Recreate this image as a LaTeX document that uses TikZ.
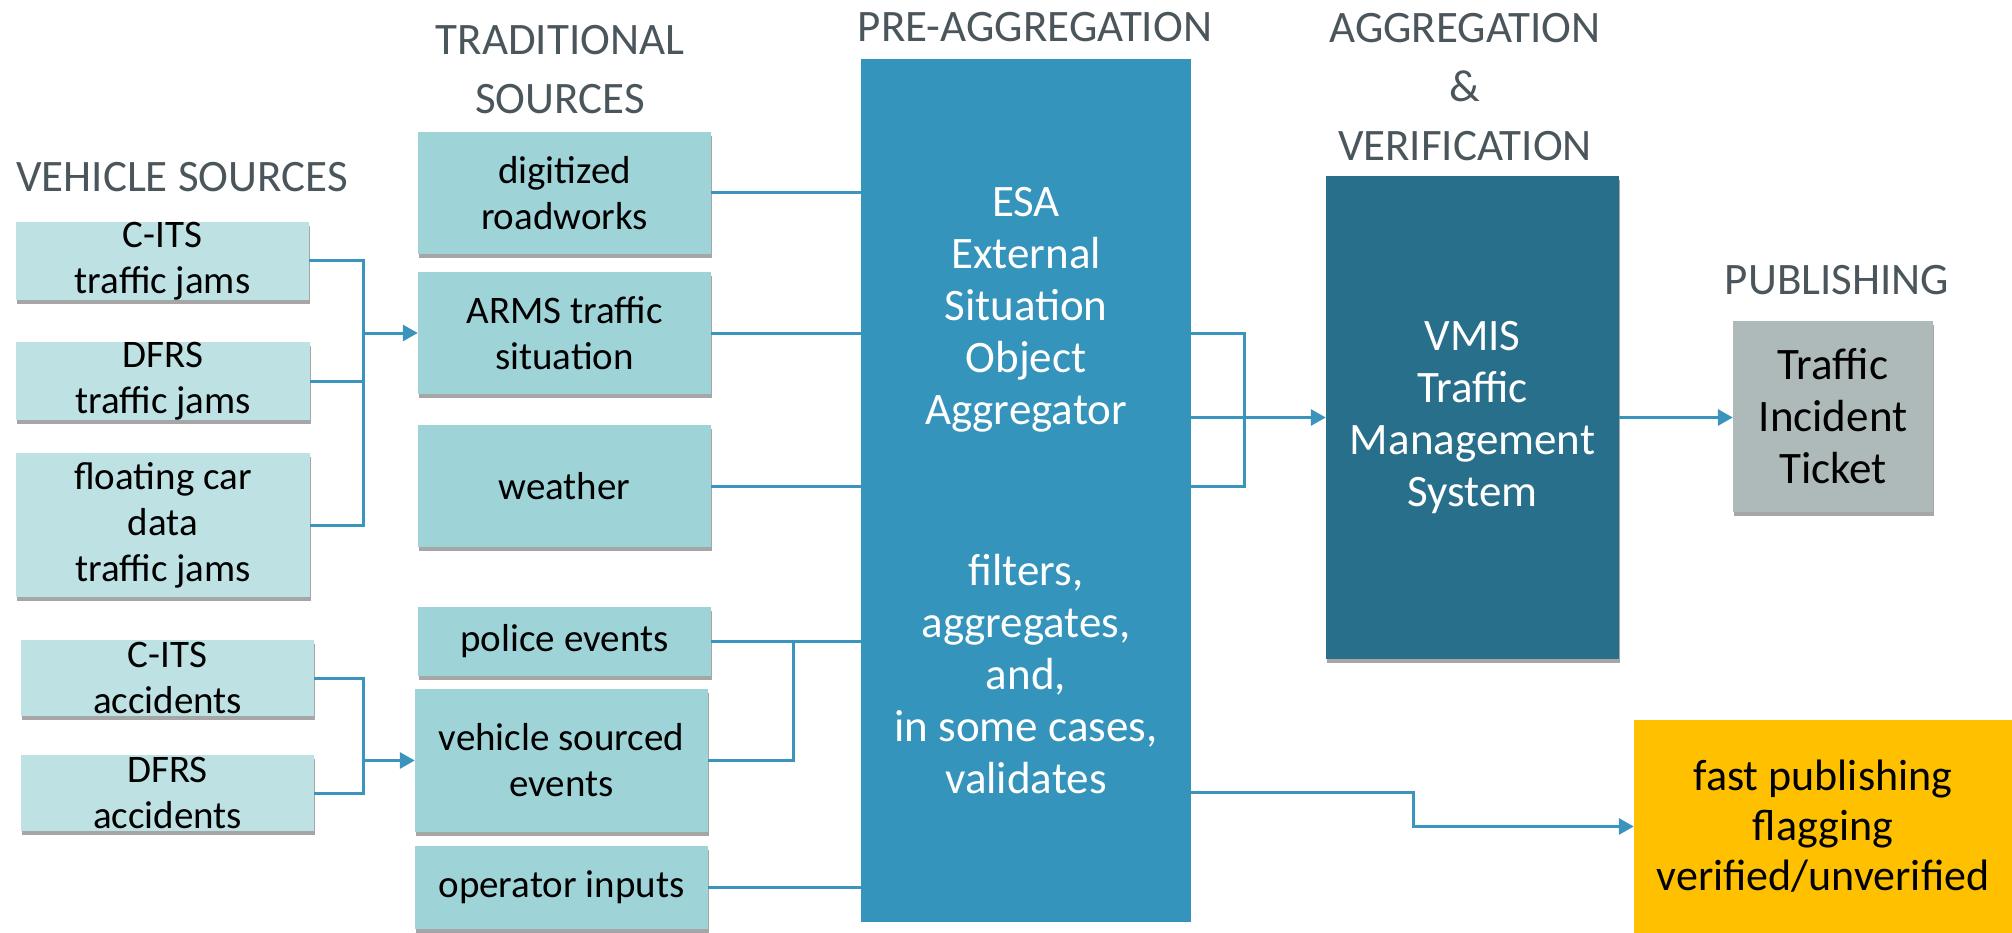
\documentclass[tikz,border=0pt]{standalone}
\usepackage{fontspec}
\setmainfont{Carlito}
\usetikzlibrary{arrows.meta,shadows,calc}
\definecolor{vfill}{HTML}{BEE1E4}
\definecolor{tfill}{HTML}{9ED3D8}
\definecolor{prefill}{HTML}{3594BC}
\definecolor{vmisfill}{HTML}{286F8B}
\definecolor{tickfill}{HTML}{AEBABA}
\definecolor{fastfill}{HTML}{FFC000}
\definecolor{linec}{HTML}{3A94BE}
\definecolor{headc}{HTML}{4B565C}
\tikzset{
  boxbase/.style={inner sep=0pt, align=center, drop shadow={shadow xshift=1pt, shadow yshift=-4pt, opacity=0.35, fill=black}},
  vbox/.style={boxbase, fill=vfill, font=\fontsize{39}{46}\selectfont},
  tbox/.style={boxbase, fill=tfill, font=\fontsize{39}{46}\selectfont},
  bigtext/.style={font=\fontsize{45}{52}\selectfont},
  header/.style={text=headc, align=center, inner sep=0pt, font=\fontsize{45}{59}\selectfont},
  conn/.style={draw=linec, line width=3pt},
  arrowconn/.style={conn, -{Triangle[length=15pt,width=16pt]}}
}
\begin{document}
\begin{tikzpicture}[x=1pt,y=-1pt]
\useasboundingbox (0,0) rectangle (2012,933);
% headers
\node[header] (hveh) at (182,177) {VEHICLE SOURCES};
\node[header] (htrad) at (560,70) {TRADITIONAL\\SOURCES};
\node[header] (hpre) at (1035,27) {PRE-AGGREGATION};
\node[header] (hagg) at (1465,87) {AGGREGATION\\\&\\VERIFICATION};
\node[header] (hpub) at (1837,280) {PUBLISHING};
% vehicle sources
\node[vbox, minimum width=293pt, minimum height=76pt] (cj) at (162.5,261) {C-ITS\\traffic jams};
\node[vbox, minimum width=294pt, minimum height=76pt] (dj) at (163,381) {DFRS\\traffic jams};
\node[vbox, minimum width=294pt, minimum height=144pt] (fcd) at (163,525) {floating car\\data\\traffic jams};
\node[vbox, minimum width=293pt, minimum height=76pt] (ca) at (167.5,678) {C-ITS\\accidents};
\node[vbox, minimum width=293pt, minimum height=76pt] (da) at (167.5,793) {DFRS\\accidents};
% traditional sources
\node[tbox, minimum width=293pt, minimum height=122pt] (dig) at (564.5,193) {digitized\\roadworks};
\node[tbox, minimum width=293pt, minimum height=122pt] (arms) at (564.5,333) {ARMS traffic\\situation};
\node[tbox, minimum width=293pt, minimum height=122pt] (weather) at (564.5,486) {weather};
\node[tbox, minimum width=293pt, minimum height=69pt] (police) at (564.5,641.5) {police events};
\node[tbox, minimum width=293pt, minimum height=143pt] (vse) at (561.5,760.5) {vehicle sourced\\events};
\node[tbox, minimum width=293pt, minimum height=83pt] (oper) at (561.5,887.5) {operator inputs};
% pre-aggregation
\node[fill=prefill, minimum width=330pt, minimum height=863pt, inner sep=0pt] (pre) at (1026,490.5) {};
\node[bigtext, text=white, align=center, inner sep=0pt] (esa) at (1026,310) {ESA\\External\\Situation\\Object\\Aggregator};
\node[bigtext, text=white, align=center, inner sep=0pt] (filt) at (1026,674) {filters,\\aggregates,\\and,\\in some cases,\\validates};
% aggregation
\node[boxbase, fill=vmisfill, text=white, bigtext, minimum width=293pt, minimum height=483pt] (vmis) at (1472.5,417.5) {VMIS\\Traffic\\Management\\System};
% publishing
\node[boxbase, fill=tickfill, bigtext, minimum width=200pt, minimum height=191pt] (ticket) at (1833,416.5) {Traffic\\Incident\\Ticket};
\node[boxbase, fill=fastfill, font=\fontsize{44}{50}\selectfont, minimum width=378pt, minimum height=213pt] (fast) at (1823,826.5) {fast publishing\\flagging\\verified/unverified};
% connectors: vehicle traffic jams
\coordinate (j1) at ([xshift=-54pt]arms.west);
\draw[conn] (cj.east) -| (j1);
\draw[conn] (dj.east) -| (j1);
\draw[conn] (fcd.east) -| (j1);
\draw[arrowconn] (j1) -- (arms.west);
% accidents
\coordinate (j2) at ([xshift=-51pt]vse.west);
\draw[conn] (ca.east) -| (j2);
\draw[conn] (da.east) -| (j2);
\draw[arrowconn] (j2) -- (vse.west);
% traditional to pre
\draw[conn] (dig.east) -- (dig.east -| pre.west);
\draw[conn] (arms.east) -- (arms.east -| pre.west);
\draw[conn] (weather.east) -- (weather.east -| pre.west);
\draw[conn] (police.east) -- (police.east -| pre.west);
\coordinate (j3) at ([xshift=82pt]police.east);
\draw[conn] (vse.east) -| (j3);
\draw[conn] (oper.east) -- (oper.east -| pre.west);
% pre to vmis
\coordinate (j4) at (1244,417);
\draw[conn] (pre.east |- arms.east) -| (j4) |- (pre.east |- weather.east);
\draw[arrowconn] (pre.east |- vmis.west) -- (vmis.west);
% vmis to ticket
\draw[arrowconn] (vmis.east) -- (vmis.east -| ticket.west);
% pre to fast
\coordinate (k1) at (1413,792);
\draw[arrowconn] (pre.east |- k1) -- (k1) |- (fast.west);
\end{tikzpicture}
\end{document}
